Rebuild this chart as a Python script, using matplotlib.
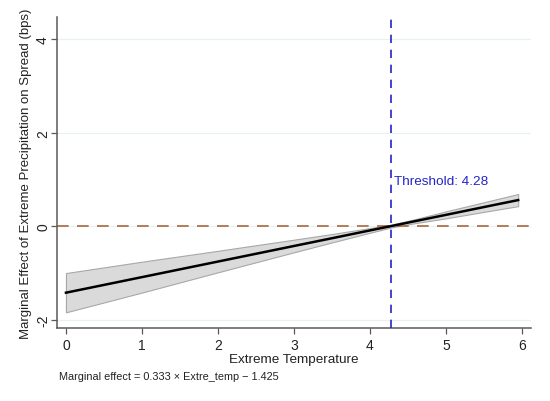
import numpy as np
import matplotlib
matplotlib.use("Agg")
import matplotlib.pyplot as plt

# Valores
temp = [0, 1, 2, 3, 3.5, 4, 4.28, 4.6, 5, 5.5, 5.95]
efeito = [-1.425, -1.092, -0.759, -0.426, -0.260, -0.093, 0.0, 0.107, 0.240, 0.407, 0.556]
ic_sup = [-1.005, -0.762, -0.529, -0.291, -0.170, -0.043, 0.030, 0.150, 0.315, 0.510, 0.686]
ic_inf = [-1.845, -1.422, -0.989, -0.561, -0.350, -0.143, -0.030, 0.064, 0.165, 0.304, 0.426]
limiar = 4.28
xticks = [0, 1, 2, 3, 4, 5, 6]
yticks = [-2, 0, 2, 4]

plt.rcParams['font.family'] = ['Liberation Sans', 'DejaVu Sans']

fig = plt.figure(figsize=(5.5, 4.02), dpi=100)
ax = fig.add_axes([0.1036, 0.1816, 0.862, 0.7734])

for y in yticks:
    ax.axhline(y, color='#eaf1f3', linewidth=0.9, zorder=0)

ax.fill_between(temp, ic_inf, ic_sup, facecolor='#dadada', edgecolor='#a8a8a8',
                linewidth=0.8, zorder=1)
ax.plot(temp, efeito, color='black', linewidth=1.8, zorder=3)

ax.axhline(0, color='#a8683c', linewidth=1.2, dashes=(7, 5), zorder=2)
ax.axvline(limiar, color='#2424c8', linewidth=1.2, dashes=(5, 4), zorder=4)
ax.text(limiar + 0.03, 0.96, 'Threshold: ' + str(limiar), color='#2424c8',
        fontsize=9.7, va='center', ha='left')

ax.set_xlim(-0.118, 6.12)
ax.set_ylim(-2.18, 4.47)
ax.set_xticks(xticks)
ax.set_yticks(yticks)
ax.set_yticklabels([str(v) for v in yticks], rotation=90, va='center')

for s in ['top', 'right']:
    ax.spines[s].set_visible(False)
for s in ['left', 'bottom']:
    ax.spines[s].set_color('#5a5a5a')
    ax.spines[s].set_linewidth(1.1)
ax.tick_params(axis='both', colors='#5a5a5a', labelcolor='#222222',
               length=4, width=0.9, labelsize=10, pad=3)
ax.tick_params(axis='y', pad=1)

ax.set_xlabel('Extreme Temperature', fontsize=9.7, color='#222222', labelpad=1)
ax.set_ylabel('Marginal Effect of Extreme Precipitation on Spread (bps)',
              fontsize=9.5, color='#222222')
ax.yaxis.set_label_coords(-0.052, 0.5)

fig.text(0.107, 0.062, 'Marginal effect = 0.333 \u00d7 Extre_temp \u2212 1.425',
         fontsize=7.8, color='#222222', ha='left', va='center')

fig.savefig('out.png', dpi=100, facecolor='white')
